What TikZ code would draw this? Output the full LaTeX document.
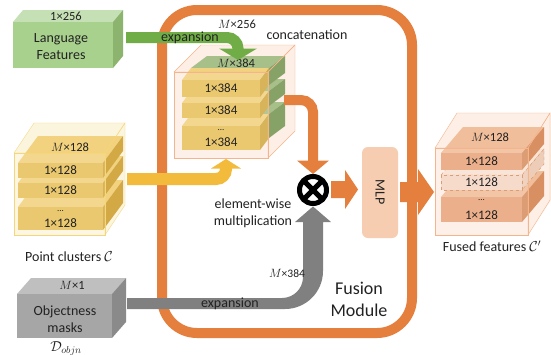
\documentclass[tikz,border=0pt]{standalone}
\usepackage{fontspec}
\setmainfont{Carlito}
\usetikzlibrary{calc}
\definecolor{orng}{HTML}{E47F3E}
\definecolor{txt}{HTML}{222222}
\definecolor{grnA}{HTML}{70AD47}
\definecolor{lgF}{HTML}{A9D18E}
\definecolor{lgT}{HTML}{C5E0B4}
\definecolor{lgS}{HTML}{8CB46F}
\definecolor{ylA}{HTML}{F3BB3C}
\definecolor{ylF}{HTML}{E8C15C}
\definecolor{ylT}{HTML}{F2D27F}
\definecolor{ylS}{HTML}{D2A944}
\definecolor{ylE}{HTML}{F5D77A}
\definecolor{cgF}{HTML}{A2BC83}
\definecolor{cgT}{HTML}{A7BF88}
\definecolor{cgS}{HTML}{87A267}
\definecolor{gyA}{HTML}{808080}
\definecolor{gyF}{HTML}{A6A6A6}
\definecolor{gyT}{HTML}{BFBFBF}
\definecolor{gyS}{HTML}{8A8A8A}
\definecolor{fuF}{HTML}{E9A67B}
\definecolor{fuT}{HTML}{F1BE9B}
\definecolor{fuS}{HTML}{D88F61}
\definecolor{fuE}{HTML}{F4B58C}
\definecolor{mlpc}{HTML}{F6CDB0}
% cuboid: x, y (front top-left, pixel coords), w, h, dx, dy, front, top, side styles
\newcommand{\cub}[9]{%
  \path[#8] (#1,#2) -- ++(#5,-#6) -- ++(#3,0) -- ++(-#5,#6) -- cycle;
  \path[#9] ({#1+#3},#2) -- ++(#5,-#6) -- ++(0,#4) -- ++(-#5,#6) -- cycle;
  \path[#7] (#1,#2) rectangle ++(#3,#4);
}
\tikzset{
  lbltxt/.style={font=\fontsize{14}{17}\selectfont, align=center},
  numtxt/.style={font=\fontsize{13}{15}\selectfont},
  dimtxt/.style={font=\fontsize{12.5}{14}\selectfont},
  dotstxt/.style={font=\fontsize{9}{9}\selectfont},
}
\begin{document}
\begin{tikzpicture}[x=1pt,y=-1pt, every node/.style={text=txt, inner sep=0pt}]
\useasboundingbox[fill=white] (0,0) rectangle (551,354);

% ---------- Fusion module frame ----------
\draw[orng, line width=10, rounded corners=35] (162,10) rectangle (412,333);

% ---------- Language features ----------
\cub{13}{22}{100}{46}{10}{12}{fill=lgF}{fill=lgT}{fill=lgS}
\node[dimtxt] (l256) at (66,16.5) {1×256};
\node[lbltxt] (lang) at (61,46.5) {Language\\Features};

% ---------- Point clusters ----------
\path[fill=ylE!25] (14,153) -- (34,123) -- (125,123) -- (125,205) -- (105,235) -- (14,235) -- cycle;
\cub{18}{207}{85}{23}{20}{27}{fill=ylF}{fill=ylT}{fill=ylS}
\cub{18}{183}{85}{15}{20}{27}{fill=ylF}{fill=ylT}{fill=ylS}
\cub{18}{163}{85}{15}{20}{27}{fill=ylF}{fill=ylT}{fill=ylS}
\cub{14}{153}{91}{82}{20}{30}{draw=ylE,fill=white,fill opacity=0.12}{draw=ylE}{draw=ylE}
\node[dimtxt] (pm) at (70,147) {$M$×128};
\node[numtxt] (p1) at (60.5,170.5) {1×128};
\node[numtxt] (p2) at (60.5,190.5) {1×128};
\node[dotstxt] (pd) at (60.5,211) {...};
\node[numtxt] (p3) at (60.5,223.5) {1×128};
\node[lbltxt] (pcl) at (69,257) {Point clusters $\mathcal{C}$};

% ---------- Objectness masks ----------
\cub{17}{294}{95}{44}{14}{16}{fill=gyF}{fill=gyT}{fill=gyS}
\node[dimtxt] (om) at (72,285) {$M$×1};
\node[lbltxt, font=\fontsize{14}{17}\selectfont] (obj) at (65,319.5) {Objectness\\masks};
\node[lbltxt] (dobj) at (66,348.5) {$\mathcal{D}_{objn}$};

% ---------- Concatenation stack ----------
\path[fill=fuE!22] (174,72) -- (201,45) -- (295,45) -- (295,131) -- (268,158) -- (174,158) -- cycle;
\cub{191}{114}{78}{24}{16}{12}{fill=cgF}{fill=cgT}{fill=cgS}
\cub{182}{126}{78}{24}{9}{12}{fill=ylF}{fill=ylT}{fill=ylS}
\cub{191}{91}{78}{15}{16}{12}{fill=cgF}{fill=cgT}{fill=cgS}
\cub{182}{103}{78}{15}{9}{12}{fill=ylF}{fill=ylT}{fill=ylS}
\cub{191}{68}{78}{17}{16}{12}{fill=cgF}{fill=cgT}{fill=cgS}
\cub{182}{80}{78}{17}{9}{12}{fill=ylF}{fill=ylT}{fill=ylS}
\cub{174}{72}{94}{86}{27}{27}{draw=fuE,fill=white,fill opacity=0.12}{draw=fuE}{draw=fuE}
\node[dimtxt] (cm) at (236,63.5) {$M$×384};
\node[numtxt] (c1) at (221,88.5) {1×384};
\node[numtxt] (c2) at (221,110.5) {1×384};
\node[dotstxt] (cd) at (221,130) {...};
\node[numtxt] (c3) at (221,142.5) {1×384};
\node[lbltxt] (concat) at (307,35) {concatenation};

% ---------- Green expansion arrow ----------
\coordinate (ga0) at (126,37.5);
\coordinate (ga1) at (238,49);
\draw[grnA, line width=11, rounded corners=11] (ga0) -| (ga1);
\fill[grnA] ($(ga1)+(-19,-0.5)$) -- ($(ga1)+(19,-0.5)$) -- ($(ga1)+(0,11)$) -- cycle;
\node[lbltxt] (exp1) at (190,38) {expansion};
\node[dimtxt] (m256) at (237,24.5) {$M$×256};

% ---------- Yellow arrow ----------
\coordinate (ya0) at (127,179);
\coordinate (ya1) at (226,168);
\draw[ylA, line width=12, rounded corners=10] (ya0) -| (ya1);
\fill[ylA] ($(ya1)+(-15,0.5)$) -- ($(ya1)+(15,0.5)$) -- ($(ya1)+(0,-9)$) -- cycle;

% ---------- Orange arrow concat -> otimes ----------
\coordinate (oa0) at (284,100);
\coordinate (oa1) at (313,161);
\draw[orng, line width=10, rounded corners=12] (oa0) -| (oa1);
\fill[orng] ($(oa1)+(-16,-0.5)$) -- ($(oa1)+(16,-0.5)$) -- ($(oa1)+(0,13)$) -- cycle;

% ---------- Gray arrow ----------
\fill[gyA] (127,298) -- (282,298) arc[start angle=90, end angle=0, radius=21]
  -- (303,222) -- (295,222) -- (313,206.5) -- (331,222) -- (323,222)
  -- (323,271) arc[start angle=0, end angle=90, radius=38] -- (127,309) -- cycle;
\node[lbltxt] (exp2) at (230,303.5) {expansion};
\node[dimtxt, font=\fontsize{11.5}{13}\selectfont] (m384) at (287,273) {$M$×384};

% ---------- otimes ----------
\node[draw=black, line width=5, fill=white, circle, minimum size=27] (mul) at (313,190) {};
\draw[black, line width=5] ($(mul.center)+(-9.6,-9.6)$) -- ($(mul.center)+(9.6,9.6)$);
\draw[black, line width=5] ($(mul.center)+(-9.6,9.6)$) -- ($(mul.center)+(9.6,-9.6)$);
\node[lbltxt] (ew) at (253,213.5) {element-wise\\multiplication};

% ---------- MLP ----------
\node[fill=mlpc, rounded corners=6, minimum width=36, minimum height=91] (mlp) at (380,192.5) {};
\node[lbltxt, rotate=-90] (mlpt) at (mlp.center) {MLP};
\fill[orng] (331,181) -- (345,181) -- (345,170) -- (358,189.5) -- (345,209) -- (345,198) -- (331,198) -- cycle;
\fill[orng] (400,182) -- (418,182) -- (418,169) -- (434,192) -- (418,215) -- (418,202) -- (400,202) -- cycle;

% ---------- Fused features ----------
\path[fill=fuE!22] (435,148) -- (457,113) -- (551,113) -- (551,200) -- (528,235) -- (435,235) -- cycle;
\cub{441}{197}{81}{25}{22}{26}{fill=fuF}{fill=fuT}{fill=fuS}
\cub{441}{175}{81}{15}{22}{26}{fill=fuF!45,draw=fuS,dashed}{fill=fuT!45,draw=fuS,dashed}{fill=fuS!45,draw=fuS,dashed}
\cub{441}{153}{81}{17}{22}{26}{fill=fuF}{fill=fuT}{fill=fuS}
\cub{435}{148}{93}{87}{22}{35}{draw=fuE,fill=white,fill opacity=0.12}{draw=fuE}{draw=fuE}
\node[dimtxt] (fm) at (490,137) {$M$×128};
\node[numtxt] (f1) at (481.5,161.5) {1×128};
\node[numtxt] (f2) at (481.5,182.5) {1×128};
\node[dotstxt] (fd) at (481.5,200) {...};
\node[numtxt] (f3) at (481.5,215.5) {1×128};
\node[lbltxt] (fusl) at (492,246) {Fused features $\mathcal{C}'$};

% ---------- Fusion Module label ----------
\node[lbltxt, font=\fontsize{18}{22}\selectfont] (fml) at (359,299) {Fusion\\Module};
\end{tikzpicture}
\end{document}
